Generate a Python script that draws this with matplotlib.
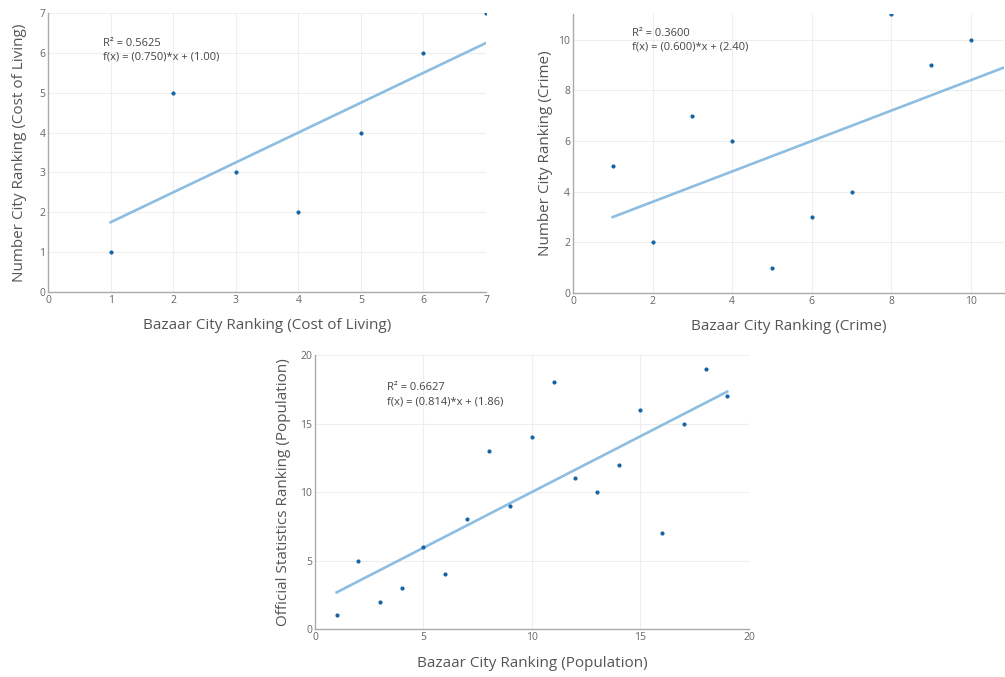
import matplotlib
matplotlib.use("Agg")
import matplotlib.pyplot as plt
import numpy as np

plt.rcParams['font.family'] = ['Open Sans', 'DejaVu Sans']

# === DATA ===
cost_x = [1, 2, 3, 4, 5, 6, 7]
cost_y = [1, 5, 3, 2, 4, 6, 7]

crime_x = [1, 2, 3, 4, 5, 6, 7, 8, 9, 10, 11]
crime_y = [5, 2, 7, 6, 1, 3, 4, 11, 9, 10, 8]

pop_x = list(range(1, 20))
pop_y = [1, 5, 2, 3, 6, 4, 8, 13, 9, 14, 18, 11, 10, 12, 16, 7, 15, 19, 17]

POINT = '#1565a8'
LINE = '#8dbde0'
GRID = '#eeeeee'
AXIS = '#aaaaaa'
TICK = '#666666'
LABEL = '#555555'


def panel(fig, rect, x, y, xlim, ylim, xticks, yticks, xlabel, ylabel,
          text_xy, lab_coords):
    ax = fig.add_axes(rect)
    x = np.array(x, dtype=float)
    y = np.array(y, dtype=float)
    slope, icpt = np.polyfit(x, y, 1)
    r2 = np.corrcoef(x, y)[0, 1] ** 2
    xs = np.array([x.min(), x.max()])
    ax.plot(xs, slope * xs + icpt, color=LINE, lw=1.9, zorder=2, clip_on=True)
    ax.scatter(x, y, s=9, color=POINT, zorder=3, clip_on=True, linewidths=0)
    ax.set_xlim(*xlim)
    ax.set_ylim(*ylim)
    ax.set_xticks(xticks)
    ax.set_yticks(yticks)
    ax.grid(True, color=GRID, lw=0.8)
    ax.set_axisbelow(True)
    for s in ['top', 'right']:
        ax.spines[s].set_visible(False)
    for s in ['left', 'bottom']:
        ax.spines[s].set_color(AXIS)
        ax.spines[s].set_linewidth(1.0)
    ax.tick_params(length=0, labelsize=7.5, labelcolor=TICK, pad=2)
    ax.set_xlabel(xlabel, fontsize=11, color=LABEL)
    ax.set_ylabel(ylabel, fontsize=11, color=LABEL)
    ax.xaxis.set_label_coords(0.5, lab_coords[1])
    ax.yaxis.set_label_coords(lab_coords[0], 0.5)
    ax.text(text_xy[0], text_xy[1],
            "R\u00b2 = %.4f\nf(x) = (%.3f)*x + (%.2f)" % (r2, slope, icpt),
            fontsize=8, color='#444444', va='top', ha='left',
            linespacing=1.35)
    return ax


fig = plt.figure(figsize=(10.05, 6.77), dpi=100)

panel(fig, [0.0478, 0.5687, 0.4358, 0.412], cost_x, cost_y,
      (0, 7), (0, 7), range(0, 8), range(0, 8),
      "Bazaar City Ranking (Cost of Living)",
      "Number City Ranking (Cost of Living)",
      (0.88, 6.38), (-0.047, -0.093))

panel(fig, [0.5701, 0.567, 0.4289, 0.412], crime_x, crime_y,
      (0, 10.83), (0, 11), range(0, 11, 2), range(0, 11, 2),
      "Bazaar City Ranking (Crime)",
      "Number City Ranking (Crime)",
      (1.48, 10.45), (-0.047, -0.093))

panel(fig, [0.3134, 0.0709, 0.4318, 0.4047], pop_x, pop_y,
      (0, 20), (0, 20), range(0, 21, 5), range(0, 21, 5),
      "Bazaar City Ranking (Population)",
      "Official Statistics Ranking (Population)",
      (3.32, 18.0), (-0.055, -0.099))

fig.savefig("out.png", dpi=100)
